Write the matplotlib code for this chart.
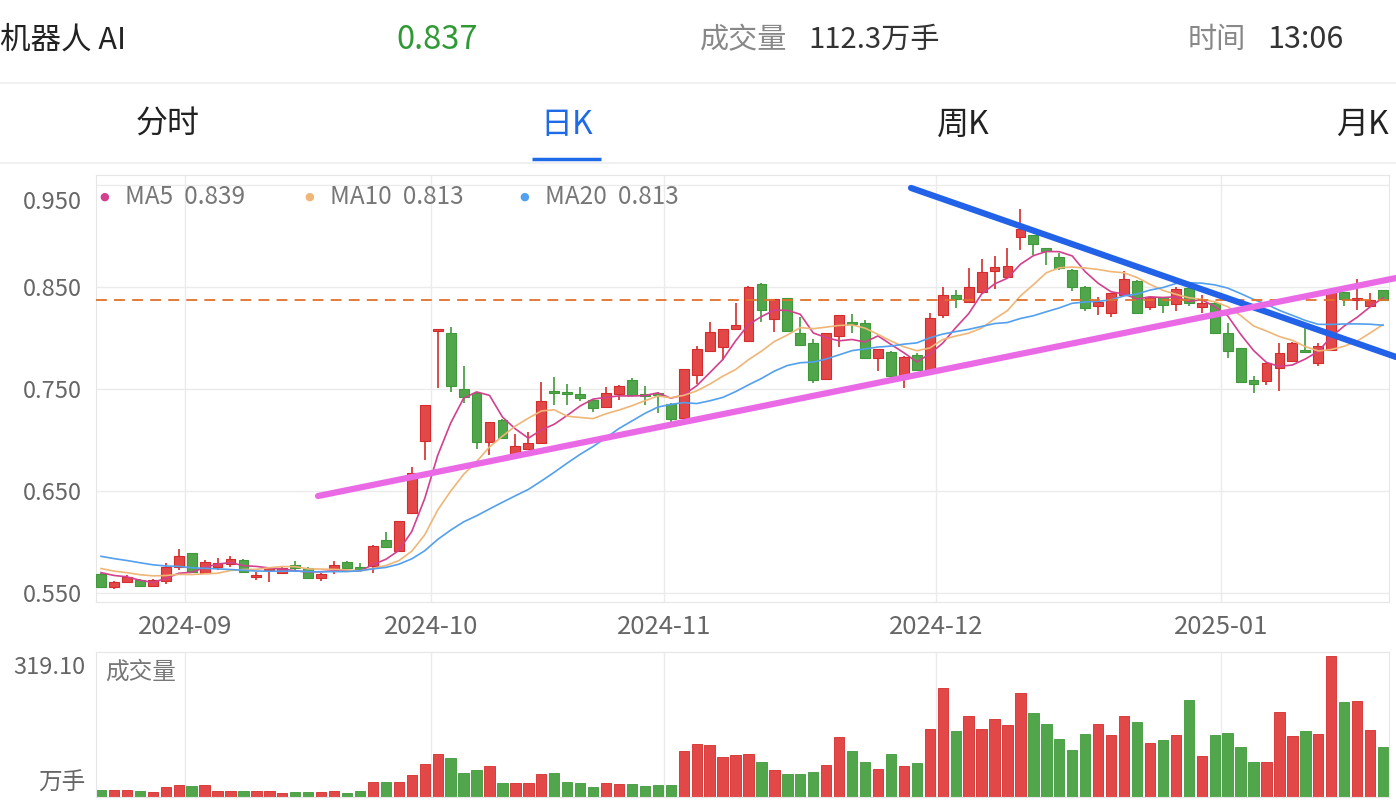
import numpy as np
import pandas as pd
import matplotlib
matplotlib.use('Agg')
import matplotlib.pyplot as plt
from matplotlib.lines import Line2D
from matplotlib.transforms import ScaledTranslation

plt.rcParams['font.family'] = ['Noto Sans CJK SC', 'DejaVu Sans']

# ---- data ----
stock_name = '机器人 AI'
last_price = '0.837'
total_vol = '112.3万手'
time_str = '13:06'
tabs = ['分时', '日K', '周K', '月K']

# closes before the first visible candle (only feed the moving averages)
warmup_close = [0.606, 0.603, 0.600, 0.604, 0.598, 0.595, 0.597, 0.592, 0.590, 0.595,
                0.586, 0.581, 0.577, 0.574, 0.572, 0.575, 0.572, 0.574, 0.5734]

open_ = [0.5686, 0.5556, 0.5611, 0.5627, 0.5572, 0.5621, 0.5758, 0.5889, 0.5693, 0.5752,
         0.5781, 0.5824, 0.5654, 0.5725, 0.5699, 0.5775, 0.5742, 0.5644, 0.5732, 0.5807,
         0.5758, 0.5765, 0.6020, 0.5915, 0.6288, 0.6993, 0.8070, 0.8052, 0.7497, 0.7458,
         0.6984, 0.7196, 0.6863, 0.6915, 0.6967, 0.7471, 0.7464, 0.7451, 0.7392, 0.7320,
         0.7451, 0.7588, 0.7448, 0.7458, 0.7353, 0.7212, 0.7637, 0.7876, 0.7915, 0.8085,
         0.7974, 0.8526, 0.8183, 0.8389, 0.8046, 0.7954, 0.7595, 0.8023, 0.8150, 0.8150,
         0.7801, 0.7866, 0.7627, 0.7833, 0.7680, 0.8225, 0.8422, 0.8356, 0.8454, 0.8657,
         0.8595, 0.8993, 0.9010, 0.8879, 0.8791, 0.8667, 0.8497, 0.8314, 0.8242, 0.8422,
         0.8562, 0.8301, 0.8399, 0.8333, 0.8487, 0.8307, 0.8346, 0.8052, 0.7899, 0.7588,
         0.7578, 0.7703, 0.7778, 0.7882, 0.7752, 0.7882, 0.8454, 0.8373, 0.8314, 0.8471]
high = [0.5692, 0.5621, 0.5673, 0.5640, 0.5640, 0.5791, 0.5928, 0.5895, 0.5824, 0.5843,
        0.5863, 0.5830, 0.5709, 0.5742, 0.5765, 0.5817, 0.5752, 0.5693, 0.5817, 0.5814,
        0.5791, 0.5971, 0.6101, 0.6209, 0.6739, 0.7343, 0.8077, 0.8105, 0.7725, 0.7474,
        0.7173, 0.7202, 0.7056, 0.7082, 0.7565, 0.7614, 0.7549, 0.7516, 0.7399, 0.7516,
        0.7539, 0.7611, 0.7529, 0.7474, 0.7366, 0.7696, 0.7922, 0.8160, 0.8085, 0.8346,
        0.8510, 0.8542, 0.8382, 0.8395, 0.8209, 0.7987, 0.8046, 0.8225, 0.8235, 0.8176,
        0.7889, 0.7872, 0.7824, 0.7850, 0.8248, 0.8497, 0.8471, 0.8683, 0.8771, 0.8804,
        0.8886, 0.9261, 0.9010, 0.8882, 0.8837, 0.8673, 0.8510, 0.8399, 0.8444, 0.8660,
        0.8569, 0.8399, 0.8405, 0.8497, 0.8497, 0.8422, 0.8350, 0.8144, 0.7905, 0.7627,
        0.7752, 0.7948, 0.7964, 0.8105, 0.7948, 0.8480, 0.8454, 0.8575, 0.8438, 0.8471]
low = [0.5553, 0.5543, 0.5605, 0.5556, 0.5556, 0.5585, 0.5725, 0.5699, 0.5686, 0.5725,
       0.5758, 0.5703, 0.5627, 0.5605, 0.5693, 0.5725, 0.5641, 0.5618, 0.5686, 0.5735,
       0.5706, 0.5699, 0.5948, 0.5909, 0.6281, 0.6804, 0.7507, 0.7474, 0.7359, 0.6912,
       0.6853, 0.7010, 0.6820, 0.6908, 0.6961, 0.7343, 0.7340, 0.7386, 0.7278, 0.7314,
       0.7392, 0.7435, 0.7343, 0.7261, 0.7180, 0.7206, 0.7549, 0.7876, 0.7784, 0.8085,
       0.7974, 0.8160, 0.8062, 0.8069, 0.7922, 0.7556, 0.7595, 0.7915, 0.8052, 0.7801,
       0.7680, 0.7621, 0.7507, 0.7676, 0.7680, 0.8193, 0.8291, 0.8340, 0.8444, 0.8477,
       0.8595, 0.8863, 0.8814, 0.8716, 0.8667, 0.8464, 0.8268, 0.8225, 0.8203, 0.8422,
       0.8235, 0.8275, 0.8242, 0.8268, 0.8314, 0.8242, 0.8046, 0.7801, 0.7565, 0.7464,
       0.7539, 0.7484, 0.7771, 0.7866, 0.7725, 0.7882, 0.8314, 0.8275, 0.8307, 0.8373]
close = [0.5556, 0.5611, 0.5654, 0.5572, 0.5627, 0.5752, 0.5863, 0.5703, 0.5807, 0.5791,
         0.5830, 0.5709, 0.5667, 0.5732, 0.5742, 0.5742, 0.5644, 0.5686, 0.5775, 0.5742,
         0.5725, 0.5964, 0.5948, 0.6206, 0.6673, 0.7343, 0.8077, 0.7529, 0.7425, 0.6984,
         0.7173, 0.7016, 0.6944, 0.6974, 0.7382, 0.7458, 0.7448, 0.7408, 0.7310, 0.7464,
         0.7533, 0.7441, 0.7431, 0.7441, 0.7203, 0.7696, 0.7889, 0.8062, 0.8085, 0.8124,
         0.8503, 0.8275, 0.8382, 0.8072, 0.7931, 0.7588, 0.8046, 0.8225, 0.8137, 0.7807,
         0.7889, 0.7627, 0.7817, 0.7686, 0.8199, 0.8422, 0.8382, 0.8503, 0.8650, 0.8693,
         0.8706, 0.9065, 0.8922, 0.8856, 0.8683, 0.8497, 0.8291, 0.8356, 0.8438, 0.8578,
         0.8248, 0.8399, 0.8320, 0.8477, 0.8346, 0.8340, 0.8052, 0.7876, 0.7572, 0.7549,
         0.7752, 0.7856, 0.7948, 0.7866, 0.7922, 0.8471, 0.8379, 0.8379, 0.8373, 0.8373]
volume = [15, 15, 15, 13, 11, 22, 28, 25, 28, 13,
          13, 14, 13, 13, 9, 11, 11, 11, 14, 10,
          14, 34, 34, 35, 50, 75, 98, 88, 54, 60,
          71, 32, 31, 31, 53, 54, 35, 32, 22, 32,
          29, 30, 25, 26, 28, 105, 120, 118, 91, 94,
          97, 79, 60, 53, 53, 57, 72, 136, 105, 78,
          64, 98, 71, 76, 154, 247, 148, 184, 154, 177,
          163, 235, 190, 165, 132, 106, 143, 164, 139, 183,
          170, 122, 129, 140, 218, 92, 139, 144, 113, 80,
          80, 192, 137, 149, 143, 319.1, 215, 217, 152, 114]

month_first_idx = [7, 26, 44, 65, 87]
month_labels = ['2024-09', '2024-10', '2024-11', '2024-12', '2025-01']
price_ticks = [0.95, 0.85, 0.75, 0.65, 0.55]
ma_periods = [5, 10, 20]
ma_shown = ['0.839', '0.813', '0.813']
ma_colors = ['#d2408e', '#efb677', '#52a0ee']
vol_max_label = '319.10'

# hand-drawn trend lines (index, price)
blue_line = ([62.55, 100.0], [0.9471, 0.7814])
pink_line = ([16.76, 100.0], [0.6451, 0.8588])

RED = '#e34848'
RED_EDGE = '#d42c2c'
GREEN = '#51a64b'
GREEN_EDGE = '#3f993b'
GRID = '#ebebeb'

fig = plt.figure(figsize=(13.96, 8.06), dpi=100)
W, H = 1396, 806

def fx(px):
    return px / W

def fy(py):
    return 1 - py / H

# ---- header ----
fig.text(fx(0), fy(40), stock_name, fontsize=22, color='#222222', va='center')
fig.text(fx(396), fy(40), last_price, fontsize=23.5, color='#2f9a34', va='center')
fig.text(fx(700), fy(40), '成交量', fontsize=21, color='#888888', va='center')
fig.text(fx(808), fy(40), total_vol, fontsize=21, color='#333333', va='center')
fig.text(fx(1188), fy(40), '时间', fontsize=21, color='#888888', va='center')
fig.text(fx(1267), fy(40), time_str, fontsize=22, color='#333333', va='center')
fig.add_artist(Line2D([0, 1], [fy(83), fy(83)], color='#eeeeee', lw=1.2))
tab_x = [168, 567, 963, 1362]
for t, x in zip(tabs, tab_x):
    fig.text(fx(x), fy(125), t, fontsize=23, ha='center', va='center',
             color='#1f6ae6' if t == '日K' else '#222222')
fig.add_artist(Line2D([fx(532), fx(601)], [fy(159), fy(159)], color='#1f6ae6', lw=2.5,
                      solid_capstyle='butt'))
fig.add_artist(Line2D([0, 1], [fy(163), fy(163)], color='#eeeeee', lw=1.2))

# ---- price panel ----
n = len(close)
x = np.arange(n)
o = np.array(open_)
c = np.array(close)
hi = np.array(high)
lo = np.array(low)
up = c >= o

ax = fig.add_axes([fx(96), fy(602), fx(1389 - 96), (602 - 175) / H])
ax.set_xlim(-0.386, 99.46)
ax.set_ylim(0.5412, 0.9598)

for m in month_first_idx:
    ax.axvline(m - 0.5, color=GRID, lw=1, zorder=0)
for p in price_ticks:
    ax.axhline(p, color=GRID, lw=1, zorder=0)

body_bottom = np.minimum(o, c)
body_h = np.maximum(np.abs(c - o), 0.0018)
ax.vlines(x, lo, hi, colors=np.where(up, RED_EDGE, GREEN_EDGE), lw=1.2, zorder=2)
ax.bar(x, body_h, bottom=body_bottom, width=0.76,
       color=np.where(up, RED, GREEN), edgecolor=np.where(up, RED_EDGE, GREEN_EDGE),
       lw=0.8, zorder=3)

all_close = pd.Series(warmup_close + close)
for per, col in zip(ma_periods, ma_colors):
    ma = all_close.rolling(per).mean().values[-n:]
    ax.plot(x, ma, color=col, lw=1.2, zorder=4)

ax.axhline(c[-1], color='#e2712b', lw=1.3, ls=(0, (6, 4)), zorder=5)

ax.plot(*blue_line, color='#2162e8', lw=4.5, solid_capstyle='round', zorder=6, clip_on=False)
ax.plot(*pink_line, color='#ea6ae6', lw=4.5, solid_capstyle='round', zorder=6, clip_on=False)

ax.set_yticks(price_ticks)
ax.set_yticklabels(['%.3f' % p for p in price_ticks])
ax.tick_params(axis='y', length=0, pad=10, labelsize=17, labelcolor='#666666')
top_lbl = ax.get_yticklabels()[0]
top_lbl.set_va('top')
top_lbl.set_transform(top_lbl.get_transform() + ScaledTranslation(0, -4 / 72, fig.dpi_scale_trans))
ax.set_xticks([m - 0.5 for m in month_first_idx])
ax.set_xticklabels(month_labels)
ax.tick_params(axis='x', length=0, pad=9, labelsize=18.5, labelcolor='#666666')
for s in ax.spines.values():
    s.set_color('#e6e6e6')

# legend
leg_x = [104, 309, 524]
for k in range(3):
    fig.text(fx(leg_x[k]), fy(197), '●', fontsize=8, color=ma_colors[k],
             ha='center', va='center', family=['DejaVu Sans'])
    fig.text(fx(leg_x[k] + 21), fy(197),
             'MA%d  %s' % (ma_periods[k], ma_shown[k]),
             fontsize=17.5, color='#777777', va='center')

# ---- volume panel ----
av = fig.add_axes([fx(96), fy(797), fx(1389 - 96), (797 - 652) / H])
av.set_xlim(-0.386, 99.46)
av.set_ylim(0, 327.5)
for m in month_first_idx:
    av.axvline(m - 0.5, color=GRID, lw=1, zorder=0)
av.bar(x, volume, width=0.8, color=np.where(up, RED, GREEN),
       edgecolor=np.where(up, RED_EDGE, GREEN_EDGE), lw=0.6, zorder=2)
av.set_xticks([])
av.set_yticks([])
for s in av.spines.values():
    s.set_color('#e6e6e6')
fig.text(fx(85), fy(668), vol_max_label, fontsize=17, color='#666666', ha='right', va='center')
fig.text(fx(85), fy(783), '万手', fontsize=17, color='#666666', ha='right', va='center')
fig.text(fx(105), fy(672), '成交量', fontsize=17, color='#777777', va='center')

fig.savefig('out.png', dpi=100)
